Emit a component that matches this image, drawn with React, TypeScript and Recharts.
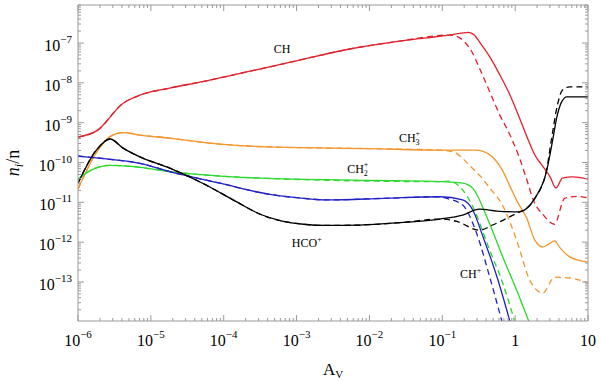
import { LineChart, Line, XAxis, YAxis, ReferenceDot } from 'recharts';

// pairs of [log10(Av), log10(n_i/n)]
const chLine = [
  [-6, -9.36], [-5.74, -9.2], [-5.38, -8.51], [-5.15, -8.31], [-4.74, -8.13], [-4.29, -7.97],
  [-3.82, -7.78], [-3.37, -7.6], [-2.96, -7.43], [-2.27, -7.15], [-1.58, -6.95], [-0.9, -6.8],
  [-0.64, -6.73], [-0.56, -6.8], [-0.49, -6.97], [-0.35, -7.34], [-0.21, -7.8], [-0.07, -8.31],
  [0.06, -8.88], [0.17, -9.39], [0.27, -9.81], [0.37, -10.07], [0.48, -10.36], [0.56, -10.64],
  [0.65, -10.39], [0.79, -10.36], [1.0, -10.42],
];
const chDashTail = [
  [-0.78, -6.85], [-0.68, -7.0], [-0.6, -7.2], [-0.49, -7.63], [-0.35, -8.22], [-0.21, -8.81],
  [-0.07, -9.31], [0.06, -9.89], [0.17, -10.49], [0.25, -10.95], [0.38, -11.3], [0.54, -11.55],
  [0.68, -10.9], [0.85, -10.85], [1.0, -10.89],
];

const ch3Line = [
  [-6, -10.67], [-5.74, -9.73], [-5.56, -9.35], [-5.38, -9.25], [-5.15, -9.31], [-4.74, -9.39],
  [-4.05, -9.54], [-3.37, -9.61], [-2.0, -9.65], [-1.03, -9.69], [-0.55, -9.69], [-0.44, -9.72],
  [-0.31, -9.86], [-0.17, -10.21], [-0.07, -10.6], [0.02, -10.95], [0.16, -11.4], [0.27, -11.95],
  [0.38, -12.12], [0.46, -12.05], [0.54, -11.97], [0.62, -12.15], [0.75, -12.37], [1.0, -12.5],
];
const ch3DashTail = [
  [-0.85, -9.73], [-0.72, -9.9], [-0.6, -10.12], [-0.49, -10.32], [-0.33, -10.68], [-0.18, -11.05],
  [0.02, -11.95], [0.2, -12.95], [0.38, -13.28], [0.54, -12.88], [0.75, -12.9], [1.0, -13.02],
];

const ch2Line = [
  [-6, -10.42], [-5.82, -10.19], [-5.56, -10.07], [-5.15, -10.12], [-4.74, -10.23], [-4.05, -10.34],
  [-3.4, -10.4], [-1.03, -10.48], [-0.72, -10.52], [-0.58, -10.65], [-0.39, -11.36], [-0.17, -12.37],
  [0.02, -13.2], [0.19, -14.0],
];
const ch2DashTail = [
  [-0.9, -10.47], [-0.72, -10.69], [-0.58, -11.11], [-0.35, -12.2], [-0.17, -13.03], [-0.005, -14.0],
];

const chpLine = [
  [-6, -9.84], [-5.56, -9.92], [-5.15, -10.02], [-4.74, -10.23], [-4.05, -10.52], [-3.37, -10.8],
  [-2.9, -10.9], [-2.58, -10.94], [-1.8, -10.9], [-1.03, -10.86], [-0.72, -10.94], [-0.58, -11.2],
  [-0.44, -11.87], [-0.25, -12.87], [-0.07, -14.0],
];
const chpDashTail = [
  [-0.94, -10.9], [-0.72, -11.07], [-0.53, -11.77], [-0.35, -12.87], [-0.18, -14.0],
];

const hcoLine = [
  [-6, -10.52], [-5.74, -9.67], [-5.56, -9.41], [-5.38, -9.64], [-5.15, -9.86], [-4.74, -10.14],
  [-4.29, -10.52], [-3.82, -10.99], [-3.5, -11.3], [-3.2, -11.47], [-2.9, -11.55], [-2.6, -11.58],
  [-2.13, -11.57], [-1.58, -11.51], [-1.03, -11.42], [-0.72, -11.32], [-0.49, -11.17], [-0.25, -11.22],
  [0.06, -11.24], [0.16, -11.15], [0.27, -10.9], [0.43, -10.23], [0.52, -9.39], [0.57, -8.88],
  [0.64, -8.47], [0.71, -8.35], [1.0, -8.35],
];
const hcoDashTail = [
  [-0.8, -11.48], [-0.49, -11.7], [-0.31, -11.57], [0.06, -11.24], [0.16, -11.15], [0.27, -10.9],
  [0.43, -10.2], [0.5, -9.4], [0.58, -8.56], [0.65, -8.18], [0.75, -8.1], [1.0, -8.1],
];

const xDecades = [-6, -5, -4, -3, -2, -1, 0, 1];
const yDecades = [-14, -13, -12, -11, -10, -9, -8, -7];
const yLabelled = [-13, -12, -11, -10, -9, -8, -7];
const minorSteps = [2, 3, 4, 5, 6, 7, 8, 9];

// species names placed on the plot: [base, sub, sup, log Av, log n]
const tags: [string, string, string, number, number][] = [
  ['CH', '', '', -3.2, -7.15],
  ['CH', '3', '+', -1.45, -9.39],
  ['CH', '2', '+', -2.16, -10.17],
  ['HCO', '', '+', -2.86, -12.03],
  ['CH', '', '+', -0.61, -12.8],
];

const RED = '#e3202b';
const ORANGE = '#f3952b';
const GREEN = '#2bd82b';
const BLUE = '#2222c4';
const BLACK = '#000000';
const FRAME = '#9a9a9a';
const SERIF = "'Liberation Serif', 'Times New Roman', serif";

const X_MIN = 1e-6;
const X_MAX = 10;
const Y_MIN = Math.pow(10, -13.98);
const Y_MAX = Math.pow(10, -6.045);

const withHead = (solid: number[][], tail: number[][]) =>
  [...solid.filter((p) => p[0] < tail[0][0]), ...tail];

const toPoints = (pts: number[][]) => pts.map(([a, n]) => ({ av: Math.pow(10, a), n: Math.pow(10, n) }));

const series = [
  { id: 'ch', pts: chLine, color: RED },
  { id: 'ch-d', pts: withHead(chLine, chDashTail), color: RED, dash: true },
  { id: 'ch3', pts: ch3Line, color: ORANGE },
  { id: 'ch3-d', pts: withHead(ch3Line, ch3DashTail), color: ORANGE, dash: true },
  { id: 'ch2', pts: ch2Line, color: GREEN },
  { id: 'ch2-d', pts: withHead(ch2Line, ch2DashTail), color: GREEN, dash: true },
  { id: 'chp', pts: chpLine, color: BLUE },
  { id: 'chp-d', pts: withHead(chpLine, chpDashTail), color: BLUE, dash: true },
  { id: 'hco', pts: hcoLine, color: BLACK },
  { id: 'hco-d', pts: withHead(hcoLine, hcoDashTail), color: BLACK, dash: true },
];

const xTicks = [
  ...xDecades.map((e) => Math.pow(10, e)),
  ...xDecades.slice(0, -1).flatMap((e) => minorSteps.map((m) => m * Math.pow(10, e))),
].sort((a, b) => a - b);

const yTicks = [
  ...yLabelled.map((e) => Math.pow(10, e)),
  ...yDecades.flatMap((e) => minorSteps.map((m) => m * Math.pow(10, e))),
].filter((v) => v >= Y_MIN && v <= Y_MAX).sort((a, b) => a - b);

const isMajor = (v: number) => Math.abs(Math.log10(v) - Math.round(Math.log10(v))) < 1e-6;

const Power = ({ v, x, y, anchor }: any) => {
  const e = Math.round(Math.log10(v));
  if (e === 0 || e === 1) {
    return (
      <text x={x} y={y} textAnchor={anchor} fontSize={16} fontFamily={SERIF} fill="#000">
        {e === 0 ? '1' : '10'}
      </text>
    );
  }
  return (
    <text x={x} y={y} textAnchor={anchor} fontSize={16} fontFamily={SERIF} fill="#000">
      <tspan>10</tspan>
      <tspan dy={-8} fontSize={11}>{'\u2212' + Math.abs(e)}</tspan>
    </text>
  );
};

const BottomTick = ({ x, y, payload }: any) => {
  const major = isMajor(payload.value);
  return (
    <g>
      <line x1={x} x2={x} y1={y} y2={y - (major ? 6 : 3)} stroke={FRAME} />
      {major && <Power v={payload.value} x={x} y={y + 25} anchor="middle" />}
    </g>
  );
};

const TopTick = ({ x, y, payload }: any) => {
  const major = isMajor(payload.value);
  return <line x1={x} x2={x} y1={y} y2={y + (major ? 6 : 3)} stroke={FRAME} />;
};

const LeftTick = ({ x, y, payload }: any) => {
  const major = isMajor(payload.value);
  return (
    <g>
      <line x1={x} x2={x + (major ? 6 : 3)} y1={y} y2={y} stroke={FRAME} />
      {major && <Power v={payload.value} x={x - 6} y={y + 8} anchor="end" />}
    </g>
  );
};

const RightTick = ({ x, y, payload }: any) => {
  const major = isMajor(payload.value);
  return <line x1={x} x2={x - (major ? 6 : 3)} y1={y} y2={y} stroke={FRAME} />;
};

const tagLabel = (base: string, sub: string, sup: string) => (props: any) => {
  const { x, y } = props.viewBox;
  return (
    <text x={x} y={y + 4} textAnchor="middle" fontSize={12} fontFamily={SERIF} fill="#000">
      <tspan>{base}</tspan>
      {sub && <tspan dy={3} fontSize={8}>{sub}</tspan>}
      {sup && <tspan dx={sub ? -4 : 0} dy={sub ? -9 : -5} fontSize={8}>{sup}</tspan>}
    </text>
  );
};

export default function App() {
  return (
    <div style={{ position: 'absolute', left: 0, top: 0, width: 600, height: 381 }}>
      <LineChart width={600} height={381} margin={{ top: 4, right: 11, bottom: 0, left: 0 }}>
        <XAxis
          xAxisId="b"
          dataKey="av"
          type="number"
          scale="log"
          domain={[X_MIN, X_MAX]}
          allowDataOverflow
          ticks={xTicks}
          interval={0}
          height={60}
          tickSize={0}
          tickMargin={0}
          tickLine={false}
          axisLine={{ stroke: FRAME }}
          tick={<BottomTick />}
          label={(props: any) => {
            const { x, width } = props.viewBox;
            return (
              <text x={x + width / 2} y={375} textAnchor="middle" fontSize={17} fontFamily={SERIF} fill="#000">
                <tspan>A</tspan>
                <tspan dy={3} fontSize={11}>V</tspan>
              </text>
            );
          }}
        />
        <XAxis
          xAxisId="t"
          orientation="top"
          dataKey="av"
          type="number"
          scale="log"
          domain={[X_MIN, X_MAX]}
          allowDataOverflow
          ticks={xTicks}
          interval={0}
          height={1}
          tickSize={0}
          tickMargin={0}
          tickLine={false}
          axisLine={{ stroke: FRAME }}
          tick={<TopTick />}
        />
        <YAxis
          yAxisId="l"
          dataKey="n"
          type="number"
          scale="log"
          domain={[Y_MIN, Y_MAX]}
          allowDataOverflow
          ticks={yTicks}
          interval={0}
          width={78}
          tickSize={0}
          tickMargin={0}
          tickLine={false}
          axisLine={{ stroke: FRAME }}
          tick={<LeftTick />}
          label={(props: any) => {
            const { y, height } = props.viewBox;
            const cy = y + height / 2;
            return (
              <text
                x={19}
                y={cy}
                transform={`rotate(-90, 19, ${cy})`}
                textAnchor="middle"
                fontSize={18}
                fontFamily={SERIF}
                fill="#000"
              >
                <tspan fontStyle="italic">n</tspan>
                <tspan dy={4} fontSize={12} fontStyle="italic">i</tspan>
                <tspan dy={-4}>/n</tspan>
              </text>
            );
          }}
        />
        <YAxis
          yAxisId="r"
          orientation="right"
          dataKey="n"
          type="number"
          scale="log"
          domain={[Y_MIN, Y_MAX]}
          allowDataOverflow
          ticks={yTicks}
          interval={0}
          width={1}
          tickSize={0}
          tickMargin={0}
          tickLine={false}
          axisLine={{ stroke: FRAME }}
          tick={<RightTick />}
        />
        {series.map((s) => (
          <Line
            key={s.id}
            xAxisId="b"
            yAxisId="l"
            data={toPoints(s.pts)}
            dataKey="n"
            type="monotone"
            stroke={s.color}
            strokeWidth={1.3}
            strokeDasharray={s.dash ? '6 4' : undefined}
            dot={false}
            activeDot={false}
            isAnimationActive={false}
          />
        ))}
        {tags.map(([base, sub, sup, a, n], i) => (
          <ReferenceDot
            key={i}
            xAxisId="b"
            yAxisId="l"
            x={Math.pow(10, a)}
            y={Math.pow(10, n)}
            r={0}
            fill="none"
            stroke="none"
            label={{ content: tagLabel(base, sub, sup) }}
          />
        ))}
      </LineChart>
    </div>
  );
}
